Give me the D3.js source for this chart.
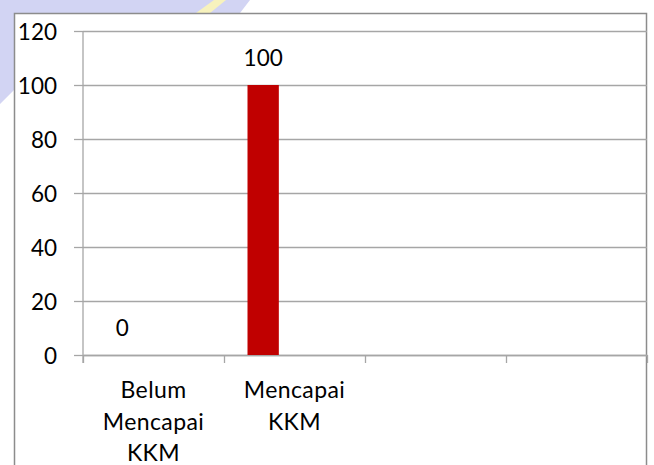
<!DOCTYPE html>
<html>
<head>
<meta charset="utf-8">
<script src="https://cdn.jsdelivr.net/npm/d3@7"></script>
<style>
  body { margin: 0; background: #fff; }
  svg text { font-family: Lato, "Open Sans", sans-serif; fill: #000; }
</style>
</head>
<body>
<div id="chart"></div>
<script>
// data
var categories = ["Belum Mencapai KKM", "Mencapai KKM", "", ""];
var seriesNames = ["Seri 1", "Seri 2", "Seri 3"];
var seriesOneValues = [0, 100, null, null];
var yTicks = [0, 20, 40, 60, 80, 100, 120];

var width = 654, height = 465;
var plotLeft = 83, plotRight = 647, plotTop = 31, plotBottom = 355;

var svg = d3.select("#chart").append("svg")
    .attr("width", width)
    .attr("height", height);

// faint watermark behind the chart frame
var wm = svg.append("g");
wm.append("path")
    .attr("d", "M0,0 L250,0 L240,13 L14,13 L14,90 L0,104 Z")
    .attr("fill", "#d2d4f3");
wm.append("path")
    .attr("d", "M196,13 L214,0 L226,0 L210,13 Z")
    .attr("fill", "#f7f2bd");

// chart frame
svg.append("rect")
    .attr("x", 14.5)
    .attr("y", 13.5)
    .attr("width", 632)
    .attr("height", 480)
    .attr("fill", "#fff")
    .attr("stroke", "#8c8c8c")
    .attr("stroke-width", 1.5);

var yScale = d3.scaleLinear()
    .domain([0, 120])
    .range([plotBottom, plotTop]);

var xScale = d3.scaleBand()
    .domain(d3.range(categories.length))
    .range([plotLeft, plotRight])
    .padding(0);

// excel style cluster: 3 slots, gap width 150%
var xInner = d3.scaleBand()
    .domain(seriesNames)
    .range([0, xScale.bandwidth()])
    .paddingInner(0)
    .paddingOuter(0.75);

// gridlines
svg.append("g")
    .attr("transform", "translate(" + plotLeft + ",0)")
    .call(d3.axisLeft(yScale).tickValues(yTicks).tickSize(-(plotRight - plotLeft)).tickFormat(""))
    .call(g => g.select(".domain").remove())
    .call(g => g.selectAll("line").attr("stroke", "#a6a6a6").attr("stroke-width", 1.3));

// y axis
var yAxis = svg.append("g")
    .attr("transform", "translate(" + plotLeft + ",0)")
    .call(d3.axisLeft(yScale).tickValues(yTicks).tickSize(9).tickPadding(17).tickSizeOuter(0));
yAxis.select(".domain").remove();
yAxis.selectAll("line").attr("stroke", "#a6a6a6").attr("stroke-width", 1.3);
yAxis.selectAll("text")
    .attr("font-size", 22.5)
    .attr("dy", "0.38em")
    .attr("font-family", "Lato, 'Open Sans', sans-serif")
    .attr("fill", "#000");

svg.append("line")
    .attr("x1", plotLeft).attr("x2", plotLeft)
    .attr("y1", plotTop).attr("y2", plotBottom + 8)
    .attr("stroke", "#a6a6a6").attr("stroke-width", 1.3);

// x axis: ticks sit between categories
var xEdges = d3.scaleLinear().domain([0, categories.length]).range([plotLeft, plotRight]);
var xAxis = svg.append("g")
    .attr("transform", "translate(0," + plotBottom + ")")
    .call(d3.axisBottom(xEdges).tickValues(d3.range(categories.length + 1)).tickSize(8).tickSizeOuter(0).tickFormat(""));
xAxis.select(".domain").attr("stroke", "#a6a6a6").attr("stroke-width", 1.3);
xAxis.selectAll("line").attr("stroke", "#a6a6a6").attr("stroke-width", 1.3);

// bars
var barData = seriesOneValues.map((v, i) => ({ i: i, value: v })).filter(d => d.value !== null);
svg.selectAll(".bar")
    .data(barData)
    .enter()
    .append("rect")
    .attr("class", "bar")
    .attr("x", d => xScale(d.i) + xInner(seriesNames[0]))
    .attr("y", d => yScale(d.value))
    .attr("width", xInner.bandwidth())
    .attr("height", d => yScale(0) - yScale(d.value))
    .attr("fill", "#c00000");

// data labels
svg.selectAll(".lbl")
    .data(barData)
    .enter()
    .append("text")
    .attr("class", "lbl")
    .attr("x", d => xScale(d.i) + xInner(seriesNames[0]) + xInner.bandwidth() / 2)
    .attr("y", d => yScale(d.value) - 19)
    .attr("text-anchor", "middle")
    .attr("font-size", 22.5)
    .text(d => d.value);

// category labels, one word per line when too wide
function wrapLabel(sel, maxW) {
    sel.each(function (d) {
        var t = d3.select(this);
        var words = categories[d].split(" ").filter(w => w.length);
        var x = t.attr("x");
        var lines = [], cur = [];
        var probe = t.append("tspan");
        words.forEach(w => {
            var test = cur.concat([w]).join(" ");
            probe.text(test);
            if (probe.node().getComputedTextLength() > maxW && cur.length) {
                lines.push(cur.join(" "));
                cur = [w];
            } else {
                cur.push(w);
            }
        });
        if (cur.length) lines.push(cur.join(" "));
        probe.remove();
        lines.forEach((ln, k) => {
            t.append("tspan").attr("x", x).attr("dy", k === 0 ? 0 : 31.5).text(ln);
        });
    });
}

svg.selectAll(".cat")
    .data(d3.range(categories.length))
    .enter()
    .append("text")
    .attr("class", "cat")
    .attr("x", d => xScale(d) + xScale.bandwidth() / 2)
    .attr("y", plotBottom + 43)
    .attr("text-anchor", "middle")
    .attr("font-size", 23)
    .style("letter-spacing", "0.4px")
    .call(wrapLabel, 130);
</script>
</body>
</html>
